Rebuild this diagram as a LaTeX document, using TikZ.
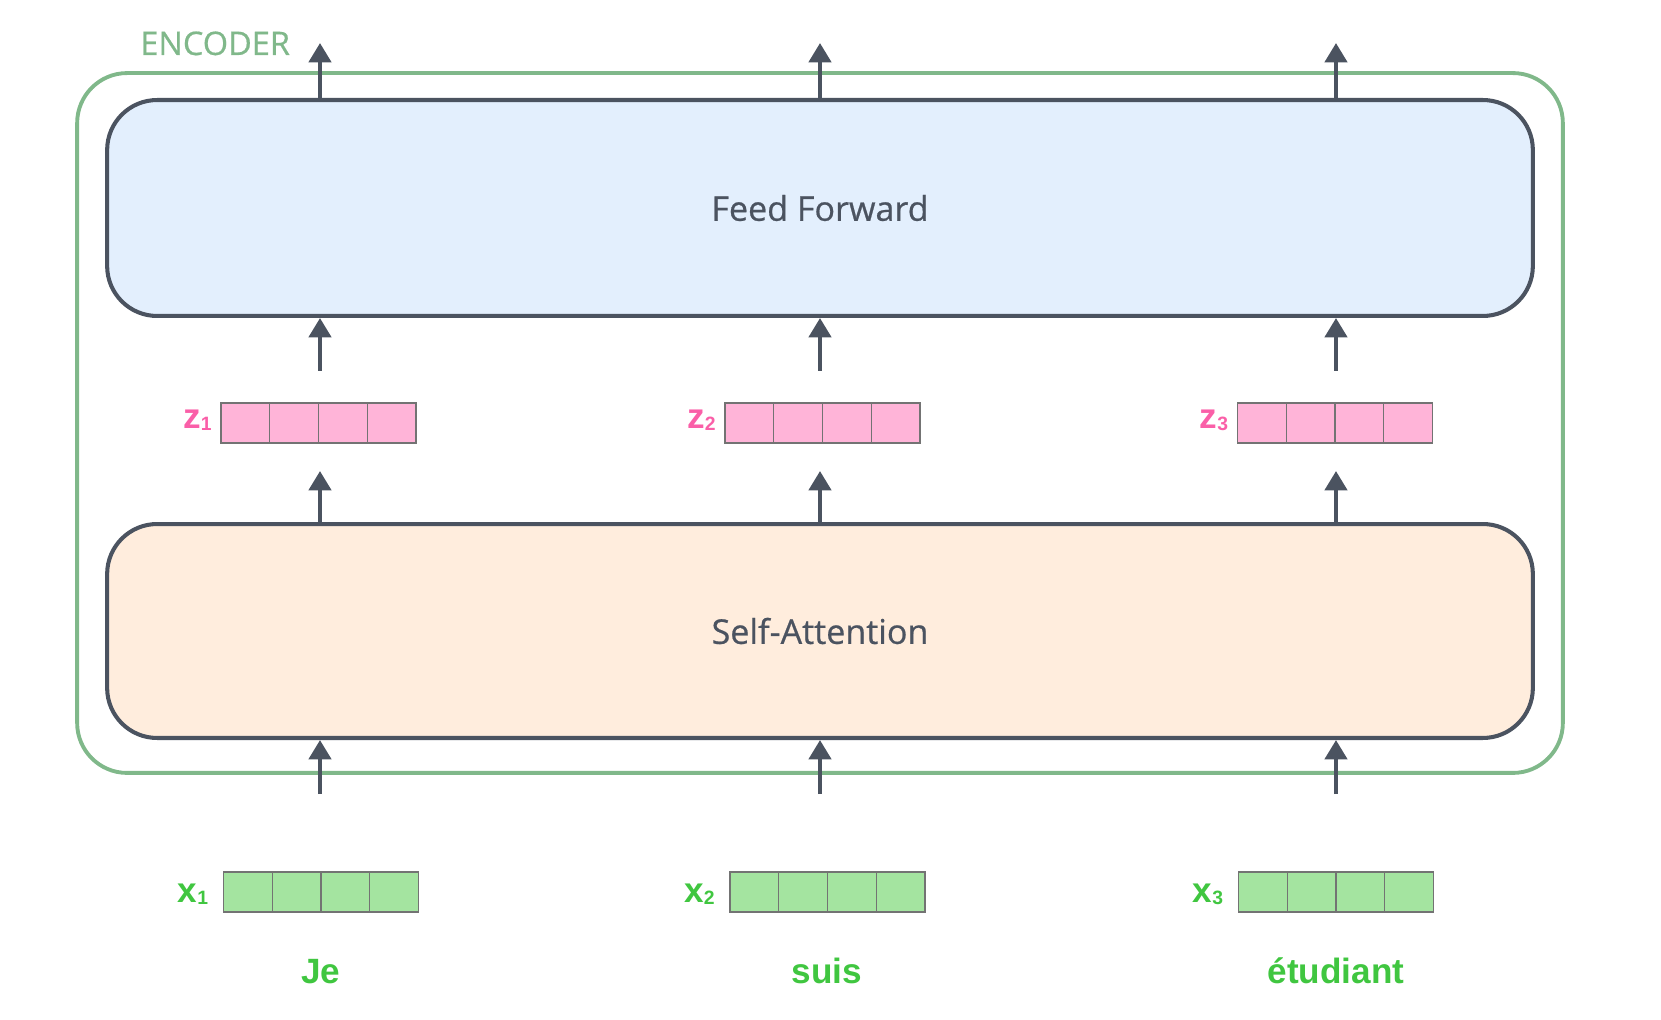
\documentclass[tikz,border=0pt]{standalone}
\usepackage{fontspec}
\setmainfont{Open Sans}
\newfontfamily\labelfont{Open Sans}[FakeBold=0.6]
\newfontfamily\wordfont{Liberation Sans}
\usetikzlibrary{arrows.meta, positioning}
\definecolor{encgreen}{RGB}{128, 184, 138}
\definecolor{boxdark}{RGB}{75, 83, 96}
\definecolor{ffblue}{RGB}{227, 239, 253}
\definecolor{sapeach}{RGB}{255, 237, 221}
\definecolor{zpink}{RGB}{255, 180, 216}
\definecolor{zpinktext}{RGB}{250, 95, 168}
\definecolor{xgreen}{RGB}{164, 228, 160}
\definecolor{xgreentext}{RGB}{64, 198, 64}
\definecolor{cellgray}{RGB}{115, 115, 115}

\tikzset{
  layer/.style={draw=boxdark, line width=2.3pt, rounded corners=1cm,
    minimum width=28.52cm, text=boxdark,
    font=\labelfont\fontsize{19.4}{23}\selectfont},
  cell/.style={draw=cellgray, line width=0.8pt, minimum width=0.975cm,
    minimum height=0.8cm, inner sep=0pt, outer sep=0pt},
  arr/.style={-{Triangle[width=12.5pt, length=11pt]}, line width=2.5pt, draw=boxdark},
  veclabel/.style={inner sep=0pt, font=\wordfont\bfseries\fontsize{20}{24}\selectfont},
  word/.style={inner sep=0pt, anchor=base, text=xgreentext,
    font=\wordfont\bfseries\fontsize{20}{24}\selectfont}
}

\begin{document}
\begin{tikzpicture}[x=0.02cm, y=-0.02cm]
  \useasboundingbox (0,0) rectangle (1661,1020);

  % encoder frame
  \node[draw=encgreen, line width=2.2pt, rounded corners=1cm,
    minimum width=29.72cm, minimum height=14cm] (enc) at (820,423) {};
  \node[anchor=base west, inner sep=0pt, text=encgreen,
    font=\labelfont\fontsize{18.5}{22}\selectfont] (enclabel) at (140,55) {ENCODER};

  % the two layers
  \node[layer, fill=ffblue, minimum height=4.32cm] (ff) at (820,208) {Feed Forward};
  \node[layer, fill=sapeach, minimum height=4.28cm] (sa) at (820,631) {Self-Attention};

  % vectors z and x
  \foreach \n/\zx/\xx in {1/318.5/321, 2/822.5/827.5, 3/1335/1336} {
    \foreach \k in {0,...,3} {
      \node[cell, fill=zpink] (z\n c\k) at ({\zx+(\k-1.5)*48.75},423) {};
      \node[cell, fill=xgreen] (x\n c\k) at ({\xx+(\k-1.5)*48.75},892) {};
    }
    \node[veclabel, text=zpinktext, left=0.18cm of z\n c0, yshift=0.05cm] (zl\n)
      {z\raisebox{-1pt}{\fontsize{11}{13}\selectfont\n}};
    \node[veclabel, text=xgreentext, left=0.3cm of x\n c0, yshift=-0.05cm] (xl\n)
      {x\raisebox{-1pt}{\fontsize{11}{13}\selectfont\n}};
  }

  % words
  \node[word] (w1) at (321,983) {Je};
  \node[word] (w2) at (827,983) {suis};
  \node[word] (w3) at (1336,983) {étudiant};

  % arrows
  \foreach \n/\cx in {1/320, 2/820, 3/1336} {
    \coordinate (top\n) at (\cx,43);
    \coordinate (up\n) at (\cx,371);
    \coordinate (lo\n) at (\cx,471);
    \coordinate (in\n) at (\cx,794);
    \draw[arr] (ff.north -| top\n) -- (top\n);
    \draw[arr] (up\n) -- (ff.south -| up\n);
    \draw[arr] (sa.north -| lo\n) -- (lo\n);
    \draw[arr] (in\n) -- (sa.south -| in\n);
  }
\end{tikzpicture}
\end{document}
